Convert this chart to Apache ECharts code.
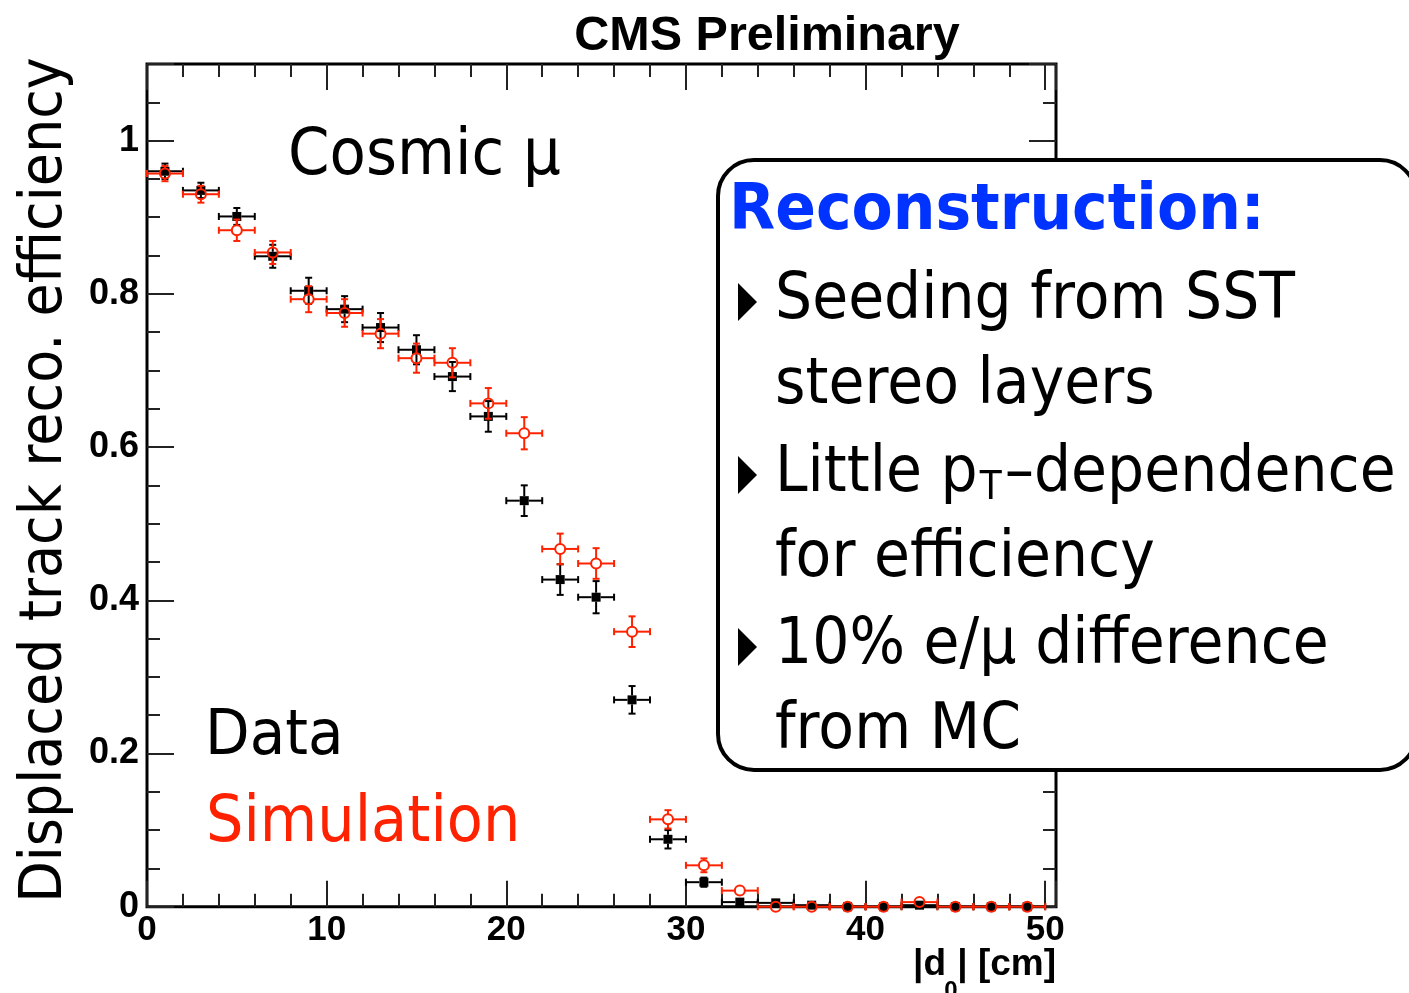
<!DOCTYPE html>
<html>
<head>
<meta charset="utf-8">
<script src="https://cdn.jsdelivr.net/npm/echarts@6/dist/echarts.min.js"></script>
<style>
html,body{margin:0;padding:0;background:#fff;}
#c{width:1409px;height:993px;}
</style>
</head>
<body>
<div id="c"></div>
<script>
// ---------------- data ----------------
const binCenters = [1,3,5,7,9,11,13,15,17,19,21,23,25,27,29,31,33,35,37,39,41,43,45,47,49];
const binHalfWidth = 1;
const dataEff = [0.960,0.935,0.901,0.849,0.804,0.780,0.756,0.727,0.692,0.640,0.530,0.427,0.404,0.270,0.088,0.032,0.006,0.005,0.002,0,0,0.002,0,0,0];
const dataErr = [0.010,0.010,0.011,0.015,0.017,0.017,0.019,0.019,0.019,0.020,0.020,0.020,0.021,0.018,0.012,0.006,0.003,0.002,0.001,0,0,0.001,0,0,0];
const simEff  = [0.957,0.930,0.883,0.854,0.793,0.775,0.748,0.716,0.710,0.657,0.618,0.467,0.448,0.359,0.114,0.054,0.021,0,0,0,0,0.006,0,0,0];
const simErr  = [0.010,0.011,0.014,0.015,0.017,0.018,0.019,0.019,0.019,0.020,0.021,0.020,0.020,0.020,0.012,0.009,0.005,0,0,0,0,0.002,0,0,0];
const xMajorStep = 10, xMinorStep = 2;
const yMajorStep = 0.2, yMinorStep = 0.05;
const titleText = 'CMS Preliminary';
const yTitle = 'Displaced track reco. efficiency';
const boxHeader = 'Reconstruction:';
const boxLines = ['Seeding from SST','stereo layers','Little p','for efficiency','10% e/μ difference','from MC'];

// ---------------- layout ----------------
const X_MIN = 0, X_MAX = 50.6, Y_MIN = 0, Y_MAX = 1.1;
const TICK_COLOR = '#222';
const RED = '#ff2200';
const BLUE = '#0033ff';
const LABEL_FONT = 'Liberation Sans';
const ANNO_FONT = 'DejaVu Sans';

function isMult(v, step){ const k = v/step; return Math.abs(k - Math.round(k)) < 1e-6; }

function xAx(pos, interval, len, withLabels){
  return {
    type:'value', position:pos, min:X_MIN, max:X_MAX, interval:interval,
    axisLine:{show:false, onZero:false}, splitLine:{show:false},
    axisTick:{show:true, inside:true, length:len, lineStyle:{color:TICK_COLOR, width:2}},
    axisLabel: withLabels ? {
      show:true, margin:6, color:'#000', fontFamily:LABEL_FONT, fontWeight:'bold', fontSize:35,
      formatter: v => isMult(v, xMajorStep) ? String(Math.round(v)) : ''
    } : {show:false}
  };
}
function yAx(pos, interval, len, withLabels){
  return {
    type:'value', position:pos, min:Y_MIN, max:Y_MAX, interval:interval,
    axisLine:{show:false, onZero:false}, splitLine:{show:false},
    axisTick:{show:true, inside:true, length:len, lineStyle:{color:TICK_COLOR, width:2}},
    axisLabel: withLabels ? {
      show:true, margin:8, color:'#000', fontFamily:LABEL_FONT, fontWeight:'bold', fontSize:36,
      formatter: v => isMult(v, yMajorStep) ? String(+(Math.round(v/yMajorStep)*yMajorStep).toFixed(1)) : ''
    } : {show:false}
  };
}

function errSeries(name, eff, err, color, marker, z){
  return {
    type:'custom', name:name, xAxisIndex:0, yAxisIndex:0, z:z, clip:false,
    data: binCenters.map((x,i)=>[x, eff[i], err[i]]),
    encode:{x:0, y:1},
    renderItem(params, api){
      const x = api.value(0), y = api.value(1), e = api.value(2);
      const c = api.coord([x, y]);
      const l = api.coord([x - binHalfWidth, y]);
      const r = api.coord([x + binHalfWidth, y]);
      const t = api.coord([x, y + e]);
      const b = api.coord([x, y - e]);
      const gap = 4.5, cap = 3.5;
      const st = {stroke:color, lineWidth:2};
      const ch = [];
      const seg = (x1,y1,x2,y2)=>ch.push({type:'line', shape:{x1,y1,x2,y2}, style:st});
      seg(l[0], c[1], c[0]-gap, c[1]);
      seg(c[0]+gap, c[1], r[0], c[1]);
      seg(l[0], c[1]-cap, l[0], c[1]+cap);
      seg(r[0], c[1]-cap, r[0], c[1]+cap);
      if (c[1] - t[1] > gap){ seg(c[0], t[1], c[0], c[1]-gap); seg(c[0]-cap, t[1], c[0]+cap, t[1]); }
      if (b[1] - c[1] > gap){ seg(c[0], c[1]+gap, c[0], b[1]); seg(c[0]-cap, b[1], c[0]+cap, b[1]); }
      if (marker === 'square'){
        ch.push({type:'rect', shape:{x:c[0]-4.5, y:c[1]-4.5, width:9, height:9}, style:{fill:color}});
      } else {
        ch.push({type:'circle', shape:{cx:c[0], cy:c[1], r:5}, style:{fill:null, stroke:color, lineWidth:2}});
      }
      return {type:'group', children:ch};
    }
  };
}

// text helper: baseline-positioned, optionally stretched perpendicular to baseline
const MID = 0.346;
function txt(text, x, baseline, size, opts){
  opts = opts || {};
  const k = opts.k || 1;
  const font = (opts.bold ? 'bold ' : '') + size + 'px "' + (opts.family || ANNO_FONT) + '"';
  return {
    type:'text', z:110, x:x, y:baseline - MID*size*k, scaleX:1, scaleY:k,
    style:{text:text, x:0, y:0, font:font, fill:opts.fill || '#000',
      align:opts.align || 'left', textAlign:opts.align || 'left',
      verticalAlign:'middle', textVerticalAlign:'middle'}
  };
}
const mctx = document.createElement('canvas').getContext('2d');
function measure(text, font){ mctx.font = font; return mctx.measureText(text).width; }

const K = 1.08;
const LX = 775;
const BS = 58.5;
const baselines = [323, 408, 496, 581, 668, 753];
const graphics = [];
// title
graphics.push(txt(titleText, 767, 53, 48.5, {bold:true, family:LABEL_FONT, align:'center'}));
// y title (rotated)
(function(){
  const s = 54, k = 1.1;
  graphics.push({
    type:'text', z:110, x:66 - MID*s*k, y:480, rotation:Math.PI/2, scaleY:k,
    style:{text:yTitle, x:0, y:0, font:s+'px "'+ANNO_FONT+'"', fill:'#000',
      align:'center', textAlign:'center', verticalAlign:'middle', textVerticalAlign:'middle'}
  });
})();
// x title |d_0| [cm]
graphics.push(txt('| [cm]', 1056, 978, 37, {bold:true, family:LABEL_FONT, align:'right'}));
graphics.push(txt('|d', 946, 978, 37, {bold:true, family:LABEL_FONT, align:'right'}));
graphics.push(txt('0', 951, 1000, 24, {bold:true, family:LABEL_FONT, align:'center'}));
// annotations
graphics.push(txt('Cosmic μ', 288, 180, 59.5, {k:K}));
graphics.push(txt('Data', 205, 759, 58, {k:K}));
graphics.push(txt('Simulation', 206, 846, 59, {k:K, fill:RED}));
// box
graphics.push({type:'rect', z:100, shape:{x:718, y:160, width:698, height:610, r:36},
  style:{fill:'#fff', stroke:'#000', lineWidth:4}});
graphics.push(txt(boxHeader, 729, 235, 60, {k:K, bold:true, fill:BLUE}));
[0,2,4].forEach(i=>{
  const b = baselines[i];
  graphics.push({type:'polygon', z:110, shape:{points:[[738,b-40],[738,b-2],[757,b-21]]}, style:{fill:'#000'}});
});
boxLines.forEach((t,i)=>{
  graphics.push(txt(t, LX, baselines[i], BS, {k:K}));
});
// pT subscript and rest of line 3
(function(){
  const w1 = measure(boxLines[2], BS+'px "'+ANNO_FONT+'"');
  const xT = LX + w1 + 2;
  graphics.push(txt('T', xT, baselines[2] + 6, 36, {k:K}));
  const wT = measure('T', '36px "'+ANNO_FONT+'"');
  graphics.push(txt('–dependence', xT + wT + 3, baselines[2], BS, {k:K}));
})();

const chart = echarts.init(document.getElementById('c'), null, {renderer:'canvas'});
chart.setOption({
  animation:false,
  backgroundColor:'#fff',
  grid:{left:147, right:353, top:64, bottom:86.3, show:true, borderColor:'#000', borderWidth:3,
        backgroundColor:'transparent', outerBoundsMode:'none', containLabel:false},
  xAxis:[
    xAx('bottom', xMajorStep, 26, true),
    xAx('bottom', xMinorStep, 13, false),
    xAx('top', xMajorStep, 26, false),
    xAx('top', xMinorStep, 13, false)
  ],
  yAxis:[
    yAx('left', yMajorStep, 27, true),
    yAx('left', yMinorStep, 13, false),
    yAx('right', yMajorStep, 27, false),
    yAx('right', yMinorStep, 13, false)
  ],
  series:[
    errSeries('Data', dataEff, dataErr, '#000', 'square', 2),
    errSeries('Simulation', simEff, simErr, RED, 'circle', 3)
  ],
  graphic: graphics
});
</script>
</body>
</html>
